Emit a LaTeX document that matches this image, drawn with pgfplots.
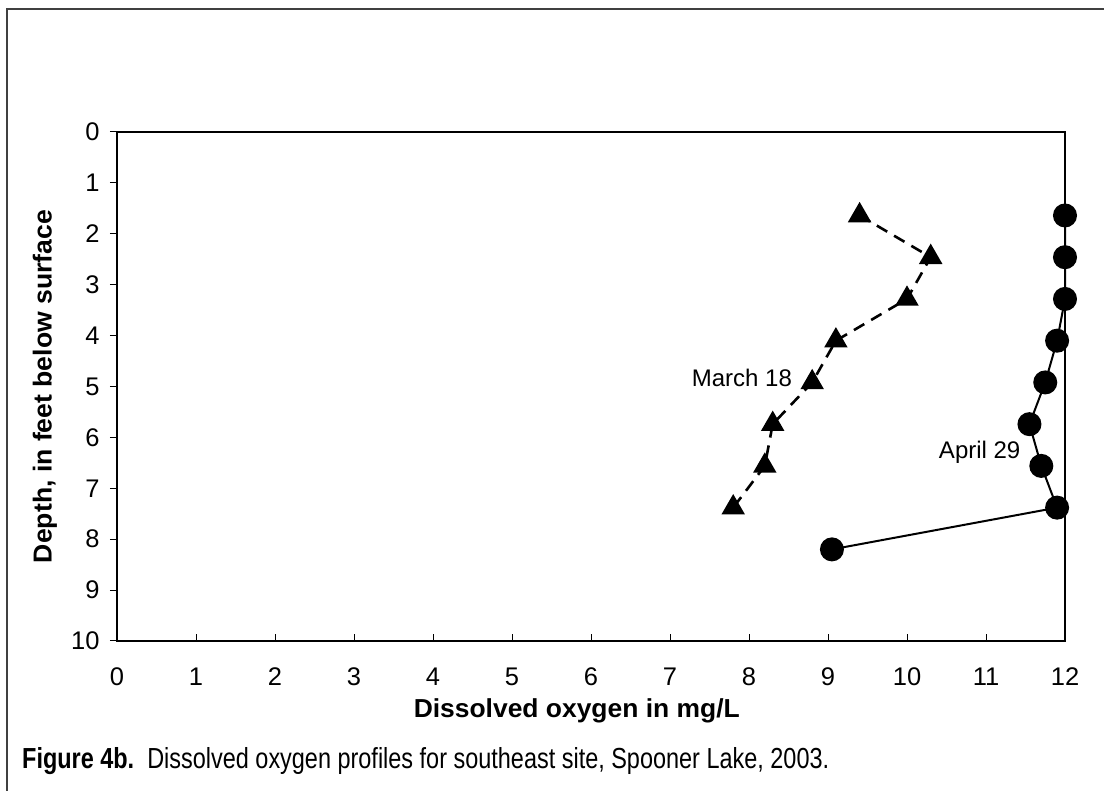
\documentclass[border=0pt]{standalone}
\usepackage{pgfplots}
\pgfplotsset{compat=1.18}
\usepackage{fontspec}
\setmainfont{Liberation Sans}
\usepackage{graphicx}
\begin{document}
\begin{tikzpicture}[x=1pt,y=1pt]
\useasboundingbox (0,0) rectangle (1104,791);
\draw[line width=1.3pt, black!75] (7,0) -- (7,782) -- (1104,782);
\begin{axis}[
  at={(117pt,150pt)}, anchor=south west,
  scale only axis, width=948pt, height=509pt,
  xmin=0, xmax=12, ymin=0, ymax=10, y dir=reverse,
  xtick={0,1,...,12}, ytick={0,1,...,10},
  xtick pos=lower, ytick pos=left,
  tick align=inside,
  major tick length=7pt,
  axis line style={line width=1.4pt, black},
  tick style={line width=1pt, black},
  y tick style={xshift=-7pt},
  /pgf/number format/assume math mode=true,
  ticklabel style={font=\fontsize{25.5}{25.5}\selectfont},
  xticklabel style={yshift=-23pt},
  yticklabel style={xshift=-14pt},
  xlabel={\resizebox{326pt}{\height}{Dissolved oxygen in mg/L}},
  ylabel={\resizebox{353pt}{\height}{Depth, in feet below surface}},
  xlabel style={font=\bfseries\fontsize{26}{26}\selectfont, at={(axis description cs:0.485,-0.1375)}, anchor=center},
  ylabel style={font=\bfseries\fontsize{26}{26}\selectfont, at={(axis description cs:-0.076,0.5)}, anchor=center, rotate=0},
  clip=false,
]
\addplot[black, line width=2pt, mark=*, mark size=11pt, mark options={solid, fill=black}]
  coordinates {(12.0,1.64)(12.0,2.46)(12.0,3.28)(11.9,4.10)(11.75,4.92)(11.55,5.74)(11.7,6.56)(11.9,7.38)(9.05,8.20)};
\addplot[black, line width=2.6pt, dash pattern=on 12pt off 8pt, mark=triangle*, mark size=11pt, mark options={solid, fill=black}]
  coordinates {(9.4,1.64)(10.3,2.46)(10.0,3.28)(9.1,4.10)(8.8,4.92)(8.3,5.74)(8.2,6.56)(7.8,7.38)};
\node[font=\fontsize{24}{24}\selectfont] at (axis cs:7.91,4.83) {March 18};
\node[font=\fontsize{24}{24}\selectfont] at (axis cs:10.92,6.29) {April 29};
\end{axis}
\node[anchor=west, inner sep=0pt] at (22,30) {\resizebox{807pt}{\height}{\fontsize{29}{29}\selectfont\textbf{Figure 4b.}\ \ Dissolved oxygen profiles for southeast site, Spooner Lake, 2003.}};
\end{tikzpicture}
\end{document}
